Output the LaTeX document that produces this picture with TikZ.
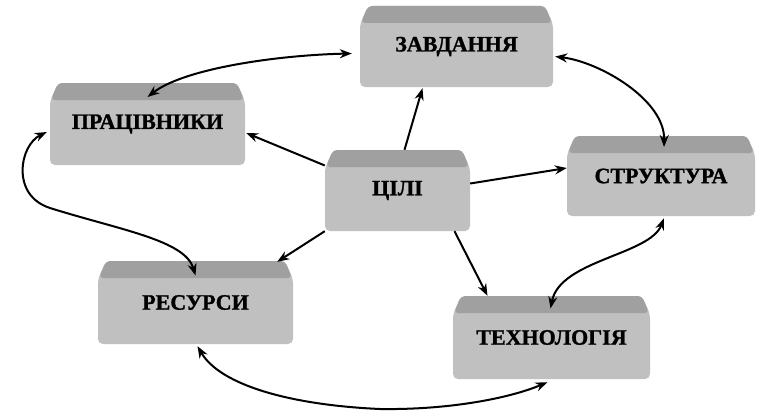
\documentclass[tikz,border=0pt]{standalone}
\usepackage{fontspec}
\setmainfont{Liberation Serif}[BoldFeatures={FakeBold=1.2}]
\usetikzlibrary{arrows.meta}
\definecolor{boxgray}{HTML}{C0C0C0}
\definecolor{bandgray}{HTML}{A0A0A0}
\newcommand\brick[6]{%
  \fill[boxgray, rounded corners=5pt] ({#2+8},#3) -- ({#4-8},#3) -- (#4,{#3+18}) -- (#4,#5) -- (#2,#5) -- (#2,{#3+18}) -- cycle;
  \fill[bandgray, rounded corners=4pt] ({#2+8},#3) -- ({#4-8},#3) -- ({#4-1},{#3+17}) -- ({#2+1},{#3+17}) -- cycle;
  \node[lbl, minimum width={(#4-#2)*1pt}, minimum height={(#5-#3)*1pt}] (#1) at ({(#2+#4)/2},{(#3+#5)/2}) {#6};
}
\begin{document}
\begin{tikzpicture}[x=1pt, y=-1pt,
  lbl/.style={rectangle, inner sep=0pt, font=\fontsize{22}{26}\selectfont\bfseries, text=black},
  conn/.style={line width=2pt, -{Stealth[length=12pt,width=9pt]}},
  bconn/.style={line width=2pt, {Stealth[length=12pt,width=9pt]}-{Stealth[length=12pt,width=9pt]}}]
\useasboundingbox (0,0) rectangle (760,412);
\brick{zav}{360}{6}{553}{87}{ЗАВДАННЯ}
\brick{pra}{50}{83}{245}{165}{ПРАЦІВНИКИ}
\brick{cil}{325}{150}{470}{231}{ЦІЛІ}
\brick{str}{567}{136}{755}{216}{СТРУКТУРА}
\brick{res}{98}{261}{293}{344}{РЕСУРСИ}
\brick{tex}{453}{296}{650}{379}{ТЕХНОЛОГІЯ}
% straight arrows from ЦІЛІ
\draw[conn] ([shift={(7,0)}]cil.north) -- ([shift={(-34,1)}]zav.south);
\draw[conn] ([shift={(0,-25)}]cil.west) -- ([shift={(1,9)}]pra.east);
\draw[conn] ([shift={(0,-7)}]cil.east) -- ([shift={(0,-8)}]str.west);
\draw[conn] (cil.south west) -- ([shift={(-16,1)}]res.north east);
\draw[conn] ([shift={(57,0)}]cil.south) -- ([shift={(-64,0)}]tex.north);
% curved double arrows
\draw[bconn] ([shift={(0,-27)}]pra.center) .. controls (185,68) and (280,55) .. ([shift={(-8,7)}]zav.west);
\draw[bconn] ([shift={(2,10)}]zav.east) .. controls (600,62) and (665,100) .. ([shift={(3,-29)}]str.center);
\draw[bconn] ([shift={(-3,8)}]pra.west) .. controls (20,145) and (10,195) .. (50,208) .. controls (120,230) and (185,240) .. ([shift={(0,-27)}]res.center);
\draw[bconn] ([shift={(2,2)}]res.south) .. controls (220,385) and (290,405) .. (380,409) .. controls (450,410) and (510,398) .. ([shift={(-4,3)}]tex.south);
\draw[bconn] ([shift={(3,2)}]str.south) .. controls (650,255) and (560,260) .. ([shift={(-1,-29)}]tex.center);
\end{tikzpicture}
\end{document}
